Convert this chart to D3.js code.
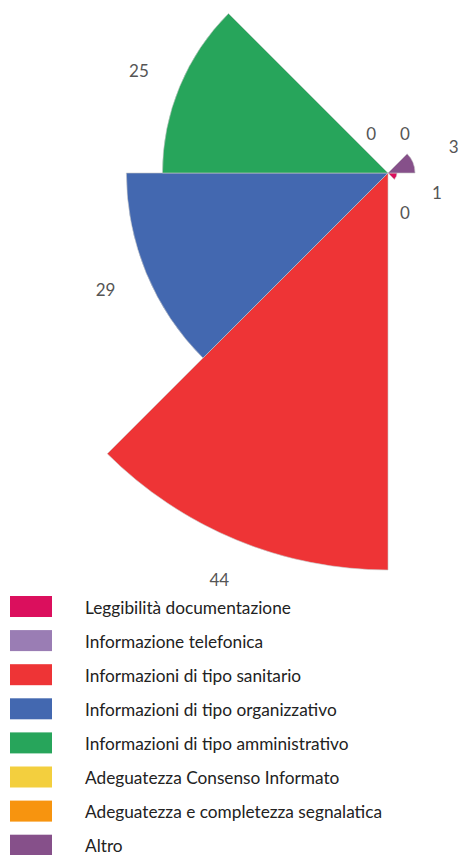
<!DOCTYPE html>
<html><head><meta charset="utf-8">
<script src="https://cdn.jsdelivr.net/npm/d3@7"></script>
<style>html,body{margin:0;padding:0;background:#fff;}svg{display:block;}</style>
</head><body>
<svg id="chart" width="462" height="855"></svg>
<script>
const categories = ["Leggibilità documentazione","Informazione telefonica","Informazioni di tipo sanitario","Informazioni di tipo organizzativo","Informazioni di tipo amministrativo","Adeguatezza Consenso Informato","Adeguatezza e completezza segnalatica","Altro"];
const values = [1, 0, 44, 29, 25, 0, 0, 3];
const colors = ["#db0f5d","#9a7db4","#ee3436","#4368b0","#27a55b","#f3cf3e","#f7940f","#86508a"];

const svg = d3.select("#chart");
const cx = 388, cy = 173;
const r = d3.scaleLinear().domain([0, 44]).range([0, 397]);
const step = 2*Math.PI/categories.length;
const start0 = Math.PI/2;

const g = svg.append("g").attr("transform", `translate(${cx},${cy})`);
const arc = d3.arc().innerRadius(0);

const data = categories.map((c,i)=>({c, v: values[i], col: colors[i], a0: start0 + i*step, a1: start0 + (i+1)*step}));

g.selectAll("path.slice").data(data).join("path")
  .attr("class","slice")
  .attr("d", d => arc({outerRadius: r(d.v), startAngle: d.a0, endAngle: d.a1}))
  .attr("fill", d => d.col)
  .attr("stroke", "#c8c8c8")
  .attr("stroke-width", 0.6);

g.selectAll("text.val").data(data).join("text")
  .attr("class","val")
  .attr("x", d => { const a=(d.a0+d.a1)/2; return Math.sin(a)*(r(d.v)+44); })
  .attr("y", d => { const a=(d.a0+d.a1)/2; return -Math.cos(a)*(r(d.v)+43); })
  .attr("text-anchor","middle")
  .attr("dominant-baseline","central")
  .attr("font-family","Lato, 'Open Sans', sans-serif")
  .attr("font-size", 17)
  .attr("fill","#555")
  .text(d => d.v);

// legend
const leg = svg.append("g");
const rows = leg.selectAll("g").data(data).join("g")
  .attr("transform",(d,i)=>`translate(0,${596 + i*34.1})`);
rows.append("rect").attr("x",10).attr("y",0).attr("width",42).attr("height",21).attr("fill",d=>d.col);
const texts = rows.append("text").attr("x",85).attr("y",17.5)
  .attr("font-family","Lato, 'Open Sans', sans-serif")
  .attr("font-size",16).attr("fill","#222").text(d=>d.c);
// fit font size to reference width of first label (~206px)
const w0 = texts.node().getComputedTextLength();
const fs = 16 * 206 / w0;
texts.attr("font-size", fs);
</script>
</body></html>
